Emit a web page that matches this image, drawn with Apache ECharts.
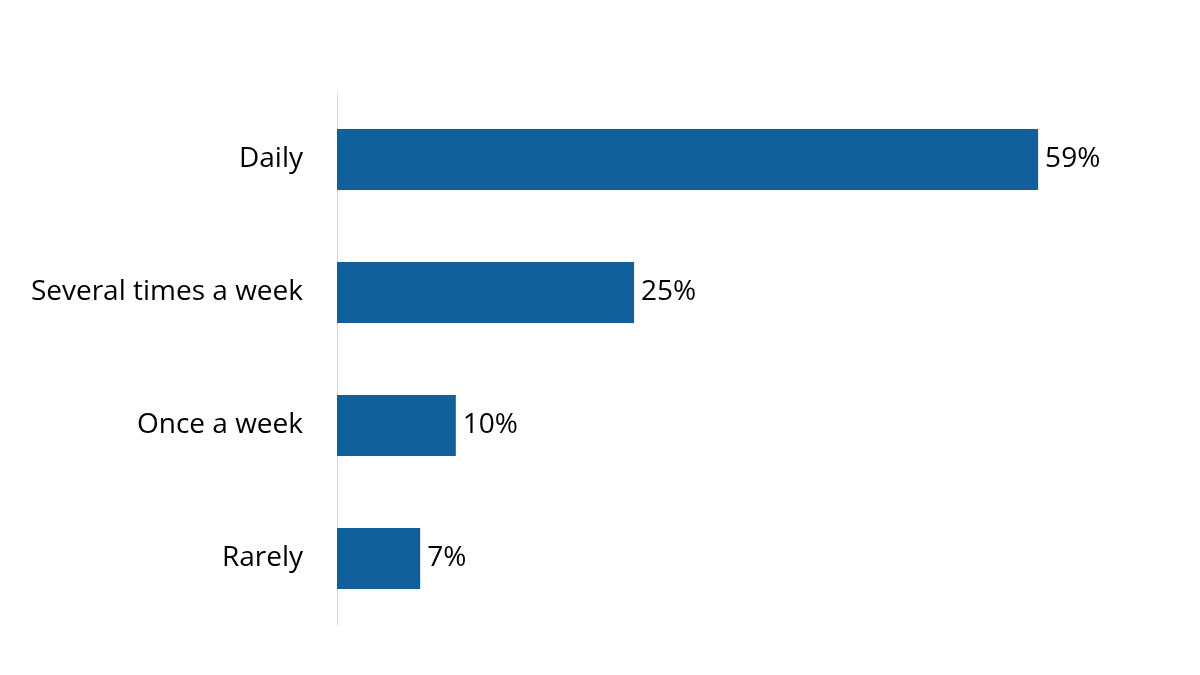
<!DOCTYPE html>
<html>
<head>
<meta charset="utf-8">
<script src="https://cdn.jsdelivr.net/npm/echarts@6/dist/echarts.min.js"></script>
<style>
  html, body { margin: 0; padding: 0; background: #fff; }
  #main { width: 1200px; height: 675px; }
</style>
</head>
<body>
<div id="main"></div>
<script>
// data
const categories = ['Daily', 'Several times a week', 'Once a week', 'Rarely'];
const values = [59, 25, 10, 7];

const chart = echarts.init(document.getElementById('main'));

const option = {
  animation: false,
  grid: {
    left: 337,
    top: 93,
    width: 713,
    height: 532
  },
  xAxis: {
    type: 'value',
    min: 0,
    max: 60,
    show: false
  },
  yAxis: {
    type: 'category',
    inverse: true,
    data: categories,
    axisLine: { lineStyle: { color: '#d9d9d9', width: 1 } },
    axisTick: { show: false },
    axisLabel: {
      color: '#000',
      fontSize: 28,
      fontFamily: 'Open Sans',
      margin: 34
    }
  },
  series: [
    {
      type: 'bar',
      data: values,
      barWidth: 61,
      itemStyle: { color: '#11609b' },
      label: {
        show: true,
        position: 'right',
        distance: 7,
        formatter: '{c}%',
        color: '#000',
        fontSize: 28,
        fontFamily: 'Open Sans'
      }
    }
  ]
};

chart.setOption(option);
</script>
</body>
</html>
